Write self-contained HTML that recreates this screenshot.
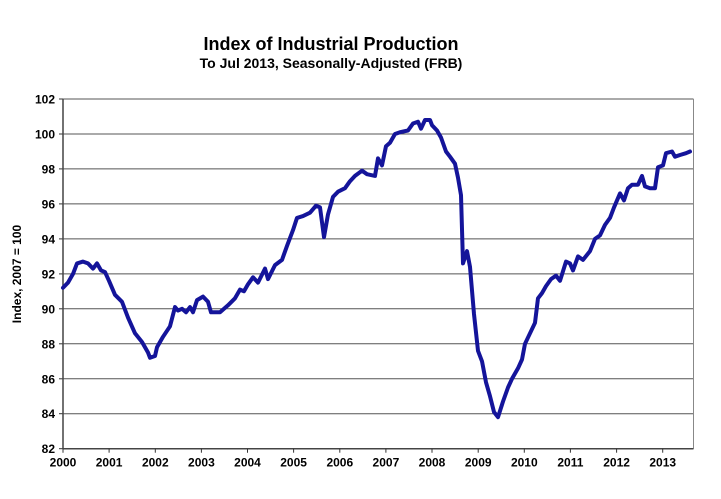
<!DOCTYPE html>
<html><head><meta charset="utf-8"><style>
body{margin:0;background:#fff;width:721px;height:494px;overflow:hidden}
svg{font-family:"Liberation Sans",Arial,sans-serif;font-weight:bold}
</style></head><body>
<svg id="s" width="721" height="494" xmlns="http://www.w3.org/2000/svg">
<text x="331" y="50" text-anchor="middle" font-size="18">Index of Industrial Production</text>
<text x="331" y="68" text-anchor="middle" font-size="14">To Jul 2013, Seasonally-Adjusted (FRB)</text>
<text transform="translate(21,274) rotate(-90)" text-anchor="middle" font-size="12">Index, 2007 = 100</text>
<g id="grid"></g>
<polyline id="ln" fill="none" stroke="#14149a" stroke-width="4" stroke-linejoin="round" stroke-linecap="round"/>
</svg>
<script>
var L=63,R=693.5,T=99,B=448.7;
function Y(v){return T+(102-v)*(B-T)/20;}
var g=document.getElementById('grid'),h='';
for(var v=82;v<=102;v+=2){var y=Y(v).toFixed(1);
 if(v>82)h+='<line x1="'+L+'" x2="'+R+'" y1="'+y+'" y2="'+y+'" stroke="#555" stroke-width="1"/>';
 h+='<line x1="'+(L-4)+'" x2="'+L+'" y1="'+y+'" y2="'+y+'" stroke="#333"/>';
 h+='<text x="'+(L-8)+'" y="'+(+y+4.5)+'" text-anchor="end" font-size="12">'+v+'</text>';}
h+='<line x1="'+L+'" x2="'+L+'" y1="'+T+'" y2="'+B+'" stroke="#444" stroke-width="1.5"/>';
h+='<line x1="'+R+'" x2="'+R+'" y1="'+T+'" y2="'+B+'" stroke="#888" stroke-width="1"/>';
h+='<line x1="'+L+'" x2="'+R+'" y1="'+B+'" y2="'+B+'" stroke="#444" stroke-width="1.5"/>';
for(var k=0;k<14;k++){var x=(L+k*46.13).toFixed(1);
 h+='<line x1="'+x+'" x2="'+x+'" y1="'+B+'" y2="'+(B+4)+'" stroke="#333"/>';
 h+='<text x="'+x+'" y="'+(B+18)+'" text-anchor="middle" font-size="12">'+(2000+k)+'</text>';}
g.innerHTML=h;
var d=[63,91.2,68,91.5,73,92.0,77,92.6,83,92.7,88,92.6,93,92.3,97,92.6,101,92.2,105,92.1,109,91.6,115,90.8,122,90.4,128,89.5,135,88.6,142,88.1,148,87.5,150,87.2,155,87.3,157,87.8,163,88.4,170,89.0,175,90.1,178,89.9,182,90.0,186,89.8,190,90.1,193,89.8,197,90.5,203,90.7,208,90.4,211,89.8,220,89.8,228,90.2,235,90.6,240,91.1,244,91.0,248,91.4,253,91.8,258,91.5,265,92.3,268,91.7,275,92.5,282,92.8,287,93.6,293,94.5,297,95.2,303,95.3,310,95.5,316,95.9,320,95.8,324,94.1,328,95.4,333,96.4,338,96.7,345,96.9,350,97.3,355,97.6,362,97.9,367,97.7,375,97.6,378,98.6,382,98.2,386,99.3,390,99.5,395,100.0,400,100.1,408,100.2,413,100.6,418,100.7,421,100.3,425,100.8,430,100.8,432,100.5,437,100.2,441,99.8,446,99.0,450,98.7,455,98.3,458,97.5,461,96.5,463,92.6,467,93.3,470,92.4,474,89.7,478,87.6,482,87.0,486,85.8,490,85.0,494,84.1,498,83.8,503,84.7,508,85.5,512,86.0,518,86.6,522,87.1,525,88.0,530,88.6,535,89.2,538,90.6,542,90.9,546,91.3,551,91.7,556,91.9,560,91.6,566,92.7,570,92.6,573,92.2,578,93.0,583,92.8,590,93.3,595,94.0,600,94.2,605,94.8,610,95.2,614,95.8,620,96.6,624,96.2,628,96.9,632,97.1,638,97.1,642,97.6,645,97.0,650,96.9,655,96.9,658,98.1,663,98.2,666,98.9,672,99.0,675,98.7,680,98.8,686,98.9,690,99.0];
var p=[];for(var i=0;i<d.length;i+=2)p.push(d[i]+','+Y(d[i+1]).toFixed(1));
document.getElementById('ln').setAttribute('points',p.join(' '));
</script>
</body></html>
